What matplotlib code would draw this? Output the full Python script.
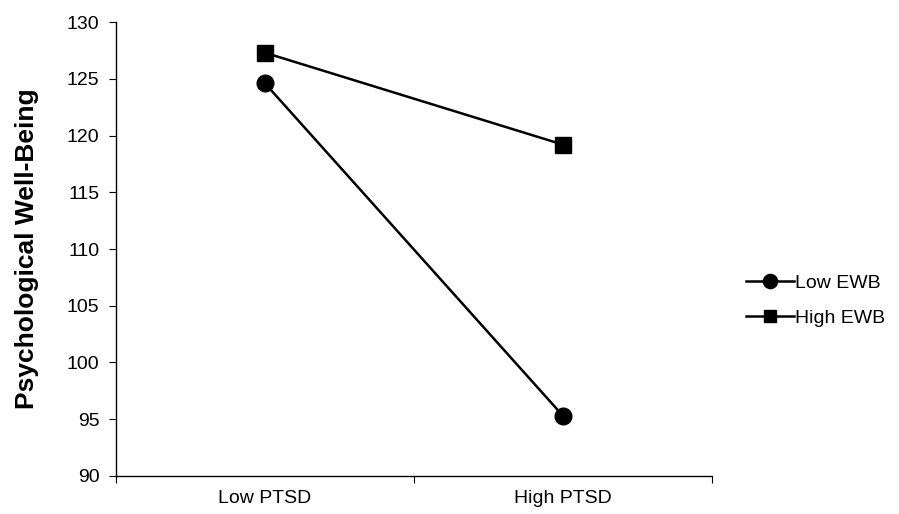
import matplotlib.pyplot as plt
from matplotlib.ticker import FixedLocator, NullFormatter

plt.rcParams['font.family'] = ['Liberation Sans', 'DejaVu Sans']

categories = ['Low PTSD', 'High PTSD']
low_ewb = [124.6, 95.3]
high_ewb = [127.3, 119.2]
yticks = [90, 95, 100, 105, 110, 115, 120, 125, 130]

fig = plt.figure(figsize=(8.99, 5.14), dpi=100)
ax = fig.add_axes([0.129, 0.074, 0.663, 0.883])

x = list(range(len(categories)))
ax.plot(x, low_ewb, '-o', color='black', lw=1.8, ms=12, label='Low EWB')
ax.plot(x, high_ewb, '-s', color='black', lw=1.8, ms=11, label='High EWB')

ax.set_xlim(-0.5, len(categories) - 0.5)
ax.set_ylim(90, 130)
ax.set_yticks(yticks)
ax.tick_params(axis='y', direction='out', length=5, labelsize=14, pad=7)

ax.xaxis.set_major_locator(FixedLocator([-0.5, 0.5, 1.5]))
ax.xaxis.set_major_formatter(NullFormatter())
ax.xaxis.set_minor_locator(FixedLocator(x))
ax.set_xticklabels(categories, minor=True)
ax.tick_params(axis='x', which='major', direction='out', length=5)
ax.tick_params(axis='x', which='minor', length=0, labelsize=14, pad=10)

for s in ['top', 'right']:
    ax.spines[s].set_visible(False)
for s in ['left', 'bottom']:
    ax.spines[s].set_linewidth(1.0)

ax.set_ylabel('Psychological Well-Being', fontsize=19, fontweight='bold', labelpad=20)

fig.legend(loc='center left', bbox_to_anchor=(0.81, 0.415), frameon=False,
           fontsize=14, handlelength=2.5, handletextpad=0.05, labelspacing=0.9,
           markerscale=0.85)

fig.savefig('out.png', dpi=100)
